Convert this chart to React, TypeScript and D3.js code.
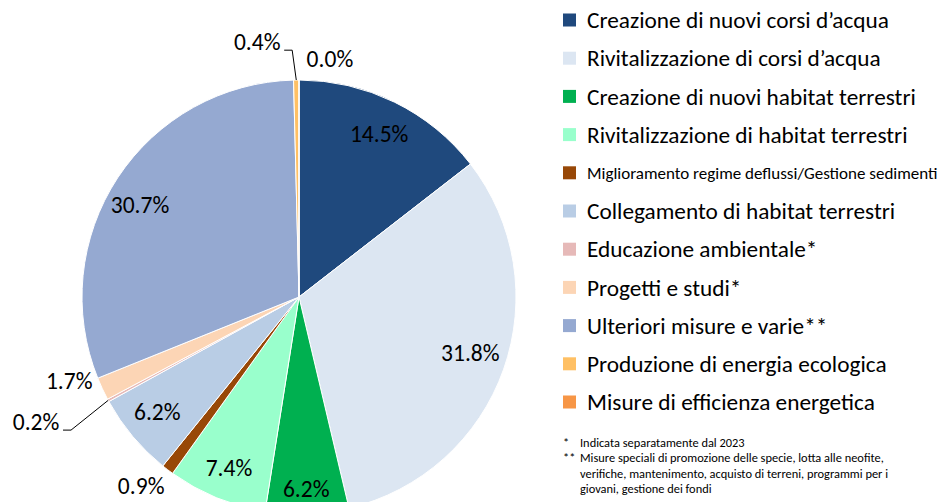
import React from "react";
import * as d3 from "d3";

const categories = [
  "Creazione di nuovi corsi d’acqua",
  "Rivitalizzazione di corsi d’acqua",
  "Creazione di nuovi habitat terrestri",
  "Rivitalizzazione di habitat terrestri",
  "Miglioramento regime deflussi/Gestione sedimenti",
  "Collegamento di habitat terrestri",
  "Educazione ambientale*",
  "Progetti e studi*",
  "Ulteriori misure e varie**",
  "Produzione di energia ecologica",
  "Misure di efficienza energetica",
];
const values = [14.5, 31.8, 6.2, 7.4, 0.9, 6.2, 0.2, 1.7, 30.7, 0.4, 0.0];
const colors = [
  "#1F497D", "#DCE6F2", "#00B050", "#99FFCC", "#984807", "#B9CDE5",
  "#E6B9B8", "#FCD5B5", "#95A9D1", "#FFC064", "#F79646",
];
const footnotes = [
  { mark: "*", lines: ["Indicata separatamente dal 2023"] },
  {
    mark: "**",
    lines: [
      "Misure speciali di promozione delle specie, lotta alle neofite,",
      "verifiche, mantenimento, acquisto di terreni, programmi per i",
      "giovani, gestione dei fondi",
    ],
  },
];

// layout: label radius factor & angle nudge (degrees), leader flag
const labelLayout = [
  { r: 0.84, da: 0, lead: false },
  { r: 0.83, da: -1.5, lead: false },
  { r: 0.885, da: 0, lead: false },
  { r: 0.85, da: 0, lead: false },
  { r: 1.135, da: 2.6, lead: false },
  { r: 0.84, da: 1, lead: false },
  { r: 1.342, da: 3.0, lead: true },
  { r: 1.128, da: 4.9, lead: false },
  { r: 0.847, da: -3.2, lead: false },
  { r: 1.19, da: -8.6, lead: true },
  { r: 1.106, da: 7.4, lead: false },
];

const FONT = "Calibri, Carlito, Lato, sans-serif";

export default function App() {
  const width = 939;
  const height = 502;
  const cx = 299;
  const cy = 297;
  const R = 217;

  const pie = d3.pie<number>().sort(null).value((d) => d);
  const arcs = pie(values);
  const arcGen = d3.arc<d3.PieArcDatum<number>>().innerRadius(0).outerRadius(R);

  const polar = (deg: number, d: number): [number, number] => {
    const a = (deg * Math.PI) / 180;
    return [d * Math.sin(a), -d * Math.cos(a)];
  };

  return (
    <svg
      width={width}
      height={height}
      style={{ position: "absolute", left: 0, top: 0, background: "#fff" }}
      fontFamily={FONT}
    >
      <g transform={`translate(${cx},${cy})`}>
        {arcs.map((a, i) => (
          <path key={i} d={arcGen(a) || ""} fill={colors[i]} stroke="#fff" strokeWidth={1} />
        ))}
        {arcs.map((a, i) => {
          const mid = (((a.startAngle + a.endAngle) / 2) * 180) / Math.PI;
          const L = labelLayout[i];
          const [lx, ly] = polar(mid + L.da, L.r * R);
          let leader = null;
          if (L.lead) {
            const [ex, ey] = polar(mid, R);
            const sx = lx + 27;
            const sy = ly + 8;
            leader = (
              <polyline
                points={`${sx},${sy} ${sx + 8},${sy} ${ex},${ey}`}
                fill="none"
                stroke="#000"
                strokeWidth={1}
              />
            );
          }
          return (
            <g key={"l" + i}>
              {leader}
              <text x={lx} y={ly} dy="0.35em" textAnchor="middle" fontSize={23.5} fill="#000">
                {values[i].toFixed(1)}%
              </text>
            </g>
          );
        })}
      </g>
      <g>
        {categories.map((c, i) => {
          const y = 20 + i * 38.2;
          const small = i === 4;
          return (
            <g key={"lg" + i}>
              <rect x={563} y={y - 6.5} width={13} height={13} fill={colors[i]} />
              <text x={587} y={y} dy="0.35em" fontSize={small ? 17 : 23.3} fill="#000">
                {c}
              </text>
            </g>
          );
        })}
      </g>
      <g fontSize={12.4} fill="#000">
        {(() => {
          const rows: React.ReactNode[] = [];
          let y = 447;
          footnotes.forEach((f, fi) => {
            f.lines.forEach((ln, li) => {
              if (li === 0)
                rows.push(
                  <text key={`m${fi}`} x={563} y={y}>
                    {f.mark}
                  </text>
                );
              rows.push(
                <text key={`f${fi}-${li}`} x={580} y={y}>
                  {ln}
                </text>
              );
              y += 15.3;
            });
          });
          return rows;
        })()}
      </g>
    </svg>
  );
}
